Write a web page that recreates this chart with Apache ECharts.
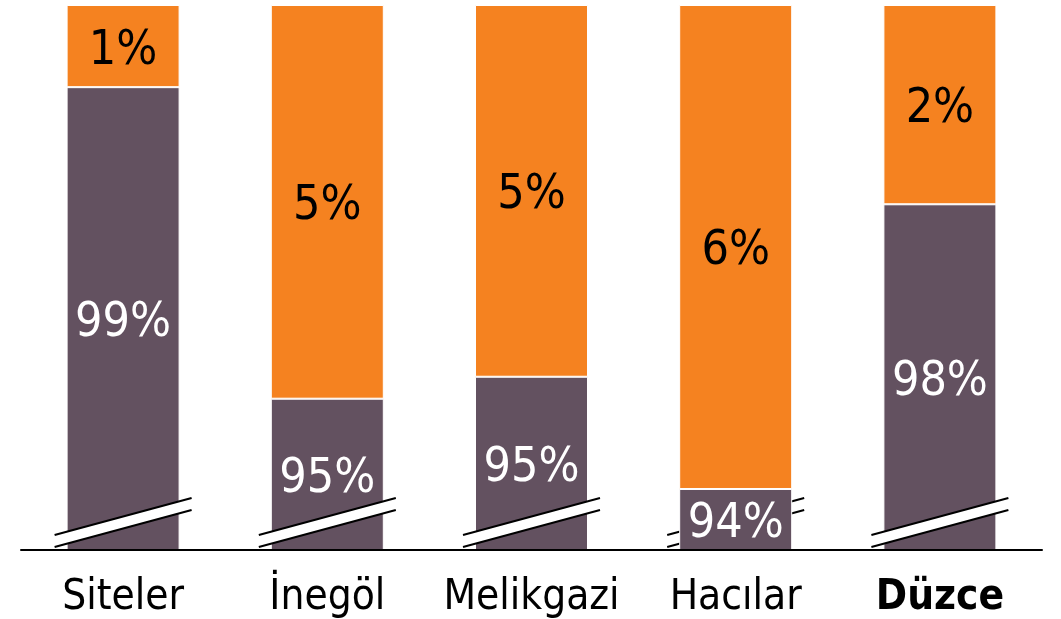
<!DOCTYPE html>
<html>
<head>
<meta charset="utf-8">
<script src="https://cdn.jsdelivr.net/npm/echarts@6/dist/echarts.min.js"></script>
<style>
html,body{margin:0;padding:0;background:#fff;}
#chart{width:1061px;height:619px;}
</style>
</head>
<body>
<div id="chart"></div>
<script>
// ---- data ----
const categories = ['Siteler', 'İnegöl', 'Melikgazi', 'Hacılar', 'Düzce'];
const boldCategory = [false, false, false, false, true];
const purpleValues = [98.99, 95.16, 95.43, 94.05, 97.55];
const orangeValues = [1.01, 4.84, 4.57, 5.95, 2.45];
const breakInFront = [true, true, true, false, true];
const axisMin = 93.3;
const axisMax = 100;

const FONT = "'DejaVu Sans Condensed', 'DejaVu Sans', sans-serif";
const PURPLE = '#635160';
const ORANGE = '#F58220';

function renderBreak(params, api) {
  const p = api.coord([api.value(0), axisMin]);
  const cx = p[0], y0 = p[1];
  const hw = 68.5;
  return {
    type: 'group',
    children: [
      { type: 'polygon', shape: { points: [[cx - hw, y0 - 15], [cx + hw, y0 - 52], [cx + hw, y0 - 40], [cx - hw, y0 - 3]] }, style: { fill: '#fff' } },
      { type: 'line', shape: { x1: cx - hw, y1: y0 - 15, x2: cx + hw, y2: y0 - 52 }, style: { stroke: '#000', lineWidth: 2 } },
      { type: 'line', shape: { x1: cx - hw, y1: y0 - 3, x2: cx + hw, y2: y0 - 40 }, style: { stroke: '#000', lineWidth: 2 } }
    ]
  };
}

const frontData = [], backData = [];
categories.forEach((c, i) => { (breakInFront[i] ? frontData : backData).push([i, axisMin]); });

const chart = echarts.init(document.getElementById('chart'), null, { renderer: 'canvas' });
chart.setOption({
  animation: false,
  grid: { left: 21, right: 19, top: 5, bottom: 68, containLabel: false },
  xAxis: {
    type: 'category',
    data: categories,
    axisLine: { show: true, lineStyle: { color: '#000', width: 2 } },
    axisTick: { show: false },
    axisLabel: {
      interval: 0,
      margin: 27,
      color: '#000',
      fontFamily: FONT,
      fontSize: 42,
      formatter: function (v, i) { return boldCategory[i] ? '{b|' + v + '}' : v; },
      rich: { b: { fontWeight: 'bold', fontSize: 42, fontFamily: FONT, color: '#000' } }
    },
    z: 10
  },
  yAxis: {
    type: 'value', min: axisMin, max: axisMax, show: false,
    splitLine: { show: false }
  },
  series: [
    {
      type: 'custom', renderItem: renderBreak, data: backData, z: 1,
      encode: { x: 0, y: 1 }, silent: true
    },
    {
      type: 'bar', stack: 's', data: purpleValues, barWidth: 113, z: 2,
      itemStyle: { color: PURPLE, borderColor: '#fff', borderWidth: 1 },
      label: {
        show: true, position: 'inside', offset: [0, 5], color: '#fff', fontFamily: FONT, fontSize: 48,
        formatter: p => Math.round(p.value) + '%'
      }
    },
    {
      type: 'bar', stack: 's', data: orangeValues, barWidth: 113, z: 2,
      itemStyle: { color: ORANGE, borderColor: '#fff', borderWidth: 1 },
      label: {
        show: true, position: 'inside', offset: [0, 5], color: '#000', fontFamily: FONT, fontSize: 48,
        formatter: p => Math.round(p.value) + '%'
      }
    },
    {
      type: 'custom', renderItem: renderBreak, data: frontData, z: 5,
      encode: { x: 0, y: 1 }, silent: true
    }
  ]
});
</script>
</body>
</html>
